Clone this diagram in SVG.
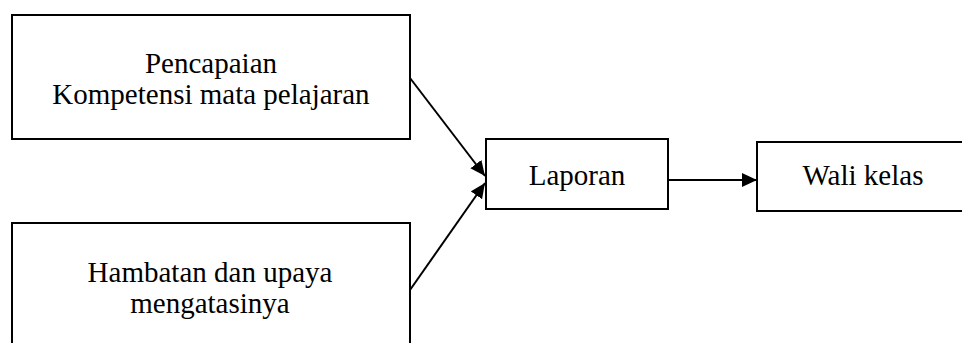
<svg xmlns="http://www.w3.org/2000/svg" width="962" height="343" viewBox="0 0 962 343">
<defs>
<style>
.box{fill:#fff;stroke:#000;stroke-width:2}
.t{font-family:"Liberation Serif","Times New Roman",serif;font-size:29px;fill:#000;text-anchor:middle}
.c{stroke:#000;stroke-width:2;fill:none}
</style>
<marker id="ah" viewBox="0 0 10 10" refX="10" refY="5" markerWidth="7.5" markerHeight="7.5" orient="auto" markerUnits="strokeWidth">
<path d="M0,0.4 L10,5 L0,9.6 z" fill="#000"/>
</marker>
</defs>
<rect width="962" height="343" fill="#fff"/>
<g id="node-pencapaian">
<rect class="box" x="12" y="15" width="398" height="124"/>
<text class="t" x="211" y="73">Pencapaian</text>
<text class="t" x="211" y="104">Kompetensi mata pelajaran</text>
</g>
<g id="node-hambatan">
<rect class="box" x="12" y="223" width="398" height="125"/>
<text class="t" x="210" y="282">Hambatan dan upaya</text>
<text class="t" x="210" y="313">mengatasinya</text>
</g>
<g id="node-laporan">
<rect class="box" x="486" y="139" width="182" height="70"/>
<text class="t" x="577" y="185">Laporan</text>
</g>
<g id="node-wali">
<rect class="box" x="757" y="142" width="212" height="69"/>
<text class="t" x="863" y="185">Wali kelas</text>
</g>
<g id="connectors">
<line class="c" x1="410" y1="78" x2="485" y2="176" marker-end="url(#ah)"/>
<line class="c" x1="410" y1="290" x2="485" y2="183" marker-end="url(#ah)"/>
<line class="c" x1="668" y1="180" x2="757" y2="180" marker-end="url(#ah)"/>
</g>
</svg>
